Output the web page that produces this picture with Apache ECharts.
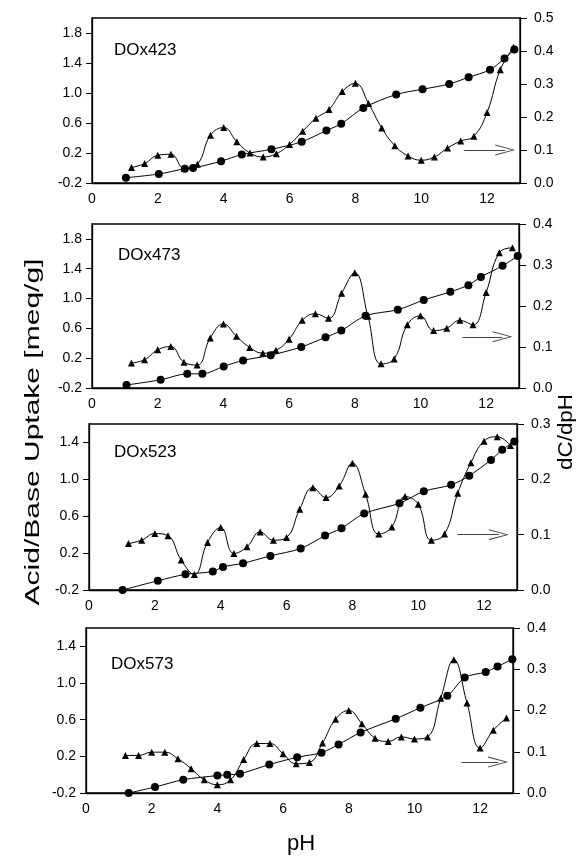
<!DOCTYPE html>
<html>
<head>
<meta charset="utf-8">
<script src="https://cdn.jsdelivr.net/npm/echarts@6/dist/echarts.min.js"></script>
<style>
  html, body { margin: 0; padding: 0; background: #fff; }
  #chart { width: 584px; height: 857px; }
</style>
</head>
<body>
<div id="chart"></div>
<script>
// 样品名
const samples = ['DOx423', 'DOx473', 'DOx523', 'DOx573']

// dC/dpH 三角点的 pH
const phTri = [1.2, 1.6, 2.0, 2.4, 2.8, 3.2, 3.6, 4.0, 4.4, 4.8, 5.2, 5.6, 6.0, 6.4, 6.8,
  7.2, 7.6, 8.0, 8.4, 8.8, 9.2, 9.6, 10.0, 10.4, 10.8, 11.2, 11.6, 12.0, 12.4, 12.8]

// DOx423
const phC1 = [1.03, 2.03, 2.82, 3.07, 3.92, 4.55, 5.45, 6.37, 7.12, 7.57, 8.24, 9.24, 10.04, 10.85, 11.44, 12.09, 12.53, 12.83]
const upC1 = [-0.13, -0.08, -0.01, 0.0, 0.09, 0.18, 0.25, 0.35, 0.50, 0.59, 0.80, 0.98, 1.05, 1.12, 1.21, 1.31, 1.46, 1.58]
const dC1 = [0.047, 0.059, 0.084, 0.087, 0.045, 0.057, 0.145, 0.168, 0.125, 0.091, 0.079, 0.089, 0.117, 0.157, 0.196,
  0.223, 0.277, 0.302, 0.241, 0.167, 0.113, 0.082, 0.069, 0.079, 0.106, 0.127, 0.142, 0.214, 0.343, 0.411]

// DOx473
const phC2 = [1.05, 2.09, 2.90, 3.36, 4.01, 4.60, 5.44, 6.37, 7.11, 7.59, 8.33, 9.31, 10.10, 10.91, 11.46, 11.84, 12.50, 12.96]
const upC2 = [-0.16, -0.09, -0.01, -0.01, 0.09, 0.17, 0.24, 0.35, 0.48, 0.57, 0.77, 0.85, 0.98, 1.09, 1.18, 1.29, 1.44, 1.57]
const dC2 = [0.061, 0.069, 0.093, 0.101, 0.063, 0.056, 0.122, 0.156, 0.126, 0.099, 0.085, 0.092, 0.119, 0.165, 0.181,
  0.170, 0.231, 0.281, 0.175, 0.059, 0.071, 0.154, 0.176, 0.140, 0.146, 0.165, 0.154, 0.233, 0.330, 0.342]

// DOx523
const phC3 = [1.02, 2.09, 2.93, 3.76, 4.07, 4.68, 5.51, 6.43, 7.17, 7.67, 8.36, 9.43, 10.17, 11.0, 11.55, 12.21, 12.55, 12.92]
const upC3 = [-0.2, -0.10, -0.03, 0.0, 0.05, 0.09, 0.17, 0.25, 0.39, 0.47, 0.63, 0.74, 0.87, 0.94, 1.04, 1.21, 1.32, 1.41]
const dC3 = [0.084, 0.090, 0.102, 0.098, 0.054, 0.028, 0.086, 0.113, 0.066, 0.078, 0.105, 0.090, 0.095, 0.146, 0.185,
  0.167, 0.188, 0.229, 0.173, 0.101, 0.114, 0.169, 0.155, 0.090, 0.101, 0.175, 0.230, 0.269, 0.277, 0.261]

// DOx573
const phC4 = [1.3, 2.10, 2.96, 4.0, 4.30, 4.69, 5.58, 6.43, 7.17, 7.69, 8.36, 9.43, 10.18, 11.0, 11.53, 12.17, 12.53, 12.98]
const upC4 = [-0.2, -0.135, -0.055, -0.01, 0.0, 0.01, 0.11, 0.19, 0.24, 0.33, 0.46, 0.61, 0.73, 0.86, 1.06, 1.12, 1.18, 1.26]
const dC4 = [0.091, 0.091, 0.099, 0.099, 0.083, 0.059, 0.032, 0.020, 0.032, 0.081, 0.120, 0.120, 0.095, 0.071, 0.074,
  0.121, 0.179, 0.200, 0.168, 0.133, 0.125, 0.136, 0.131, 0.136, 0.230, 0.323, 0.218, 0.109, 0.152, 0.182]

// 坐标轴刻度
const xTicks = [0, 2, 4, 6, 8, 10, 12]
const leftTicksA = [-0.2, 0.2, 0.6, 1.0, 1.4, 1.8]
const leftTicksB = [-0.2, 0.2, 0.6, 1.0, 1.4]
const leftMax = [2.0, 2.0, 1.6, 1.6]
const rightMax = [0.5, 0.4, 0.3, 0.4]

// 箭头 (指向右轴)
const arrowFrom = [[11.3, 0.1], [11.28, 0.125], [11.19, 0.1], [11.43, 0.075]]
const arrowTo = [[12.55, 0.1], [12.5, 0.125], [12.45, 0.1], [12.55, 0.075]]

const circles = [[phC1, upC1], [phC2, upC2], [phC3, upC3], [phC4, upC4]]
const triangles = [dC1, dC2, dC3, dC4]

const FONT = 'Liberation Sans, Arial, sans-serif'

// 各面板位置
const grids = [
  { left: 92, right: 64, top: 18, height: 165 },
  { left: 92, right: 65, top: 224, height: 164 },
  { left: 89, right: 67, top: 424, height: 166 },
  { left: 86, right: 71, top: 628, height: 165 }
]
const labelPos = [[114, 50], [118, 255], [114, 452], [111, 664]]

const zip = (xs, ys) => xs.map((x, i) => [x, ys[i]])

// 空心箭头
const openArrow = 'path://M50,0 L100,100 L90,100 L50,16 L10,100 L0,100 Z'

let option = {
  backgroundColor: '#fff',
  animation: false,
  grid: grids.map(g => Object.assign({ show: true, borderColor: '#000', borderWidth: 1.3 }, g)),
  xAxis: grids.map((g, i) => ({
    type: 'value',
    gridIndex: i,
    min: 0,
    max: 13,
    axisLine: { onZero: false, lineStyle: { color: '#000', width: 1.3 } },
    axisTick: { show: false },
    splitLine: { show: false },
    axisLabel: { customValues: xTicks, color: '#000', fontSize: 14, fontFamily: FONT, margin: 9 }
  })),
  yAxis: [],
  series: [],
  graphic: []
}

grids.forEach((g, i) => {
  const lt = leftMax[i] > 1.8 ? leftTicksA : leftTicksB
  option.yAxis.push({
    type: 'value',
    gridIndex: i,
    position: 'left',
    min: -0.2,
    max: leftMax[i],
    axisLine: { show: true, onZero: false, lineStyle: { color: '#000', width: 1.3 } },
    axisTick: { show: true, inside: false, length: 6, customValues: lt, lineStyle: { color: '#000' } },
    splitLine: { show: false },
    axisLabel: { customValues: lt, color: '#000', fontSize: 14, fontFamily: FONT, margin: 10,
      formatter: v => v.toFixed(1) }
  })
  option.yAxis.push({
    type: 'value',
    gridIndex: i,
    position: 'right',
    min: 0,
    max: rightMax[i],
    interval: 0.1,
    axisLine: { show: true, onZero: false, lineStyle: { color: '#000', width: 1.3 } },
    axisTick: { show: true, inside: false, length: 7, lineStyle: { color: '#000' } },
    splitLine: { show: false },
    axisLabel: { color: '#000', fontSize: 14, fontFamily: FONT, margin: 14,
      formatter: v => v.toFixed(1) }
  })

  // 吸附量 (圆点)
  option.series.push({
    type: 'line',
    xAxisIndex: i,
    yAxisIndex: i * 2,
    data: zip(circles[i][0], circles[i][1]),
    smooth: 0.3,
    symbol: 'circle',
    symbolSize: 8,
    lineStyle: { color: '#000', width: 1 },
    itemStyle: { color: '#000' },
    clip: false,
    z: 3
  })
  // dC/dpH (三角)
  option.series.push({
    type: 'line',
    xAxisIndex: i,
    yAxisIndex: i * 2 + 1,
    data: zip(phTri, triangles[i]),
    smooth: 0.45,
    symbol: 'triangle',
    symbolSize: 7,
    lineStyle: { color: '#000', width: 1 },
    itemStyle: { color: '#000' },
    clip: false,
    z: 4,
    markLine: {
      silent: true,
      symbol: ['none', openArrow],
      symbolSize: [11, 20],
      label: { show: false },
      lineStyle: { color: '#444', width: 1, type: 'solid' },
      data: [[{ coord: arrowFrom[i] }, { coord: arrowTo[i] }]]
    }
  })

  option.graphic.push({
    type: 'text',
    x: labelPos[i][0],
    y: labelPos[i][1],
    style: { text: samples[i], fontSize: 17, fontFamily: FONT, fill: '#000', verticalAlign: 'middle' }
  })
})

// 轴标题
option.graphic.push({
  type: 'text',
  x: 33,
  y: 432,
  rotation: Math.PI / 2,
  scaleX: 1.5,
  style: { text: 'Acid/Base Uptake [meq/g]', fontSize: 20, fontFamily: FONT, fill: '#000',
    align: 'center', verticalAlign: 'middle' }
})
option.graphic.push({
  type: 'text',
  x: 566,
  y: 432,
  rotation: Math.PI / 2,
  scaleX: 1.12,
  style: { text: 'dC/dpH', fontSize: 20, fontFamily: FONT, fill: '#000',
    align: 'center', verticalAlign: 'middle' }
})
option.graphic.push({
  type: 'text',
  x: 301,
  y: 844,
  style: { text: 'pH', fontSize: 22, fontFamily: FONT, fill: '#000',
    align: 'center', verticalAlign: 'middle' }
})

let chartInstance = echarts.init(document.getElementById('chart'))
chartInstance.setOption(option)
</script>
</body>
</html>
